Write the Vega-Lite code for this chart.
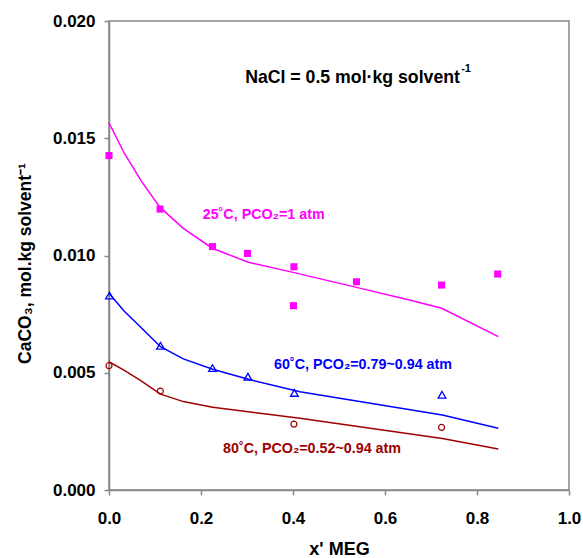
{
  "$schema": "https://vega.github.io/schema/vega-lite/v6.json",
  "width": 460,
  "height": 469,
  "autosize": {"type": "none"},
  "padding": {"left": 109, "top": 21, "right": 14, "bottom": 68},
  "background": "white",
  "config": {
    "font": "Liberation Sans",
    "view": {"stroke": "#888888", "strokeWidth": 1.5},
    "axis": {
      "domainColor": "#888888",
      "domainWidth": 1.5,
      "tickColor": "#888888",
      "tickWidth": 1.5,
      "tickSize": 5,
      "grid": false,
      "labelFont": "Liberation Sans",
      "labelFontSize": 17,
      "labelFontWeight": "bold",
      "labelColor": "black",
      "labelFlush": false,
      "titleFont": "Liberation Sans",
      "titleFontWeight": "bold",
      "titleColor": "black"
    }
  },
  "datasets": {
    "model": [
      {"series": "25", "x": 0, "y": 0.01566},
      {"series": "25", "x": 0.0333, "y": 0.01436},
      {"series": "25", "x": 0.071, "y": 0.01315},
      {"series": "25", "x": 0.111, "y": 0.01205},
      {"series": "25", "x": 0.1616, "y": 0.01116},
      {"series": "25", "x": 0.2246, "y": 0.01031},
      {"series": "25", "x": 0.303, "y": 0.00971},
      {"series": "25", "x": 0.4, "y": 0.00928},
      {"series": "25", "x": 0.538, "y": 0.00864},
      {"series": "25", "x": 0.653, "y": 0.0081},
      {"series": "25", "x": 0.7233, "y": 0.00775},
      {"series": "25", "x": 0.8463, "y": 0.00654},
      {"series": "60", "x": 0, "y": 0.00839},
      {"series": "60", "x": 0.0333, "y": 0.00762},
      {"series": "60", "x": 0.0674, "y": 0.00697},
      {"series": "60", "x": 0.112, "y": 0.00611},
      {"series": "60", "x": 0.1616, "y": 0.00559},
      {"series": "60", "x": 0.2254, "y": 0.00515},
      {"series": "60", "x": 0.303, "y": 0.00472},
      {"series": "60", "x": 0.415, "y": 0.00419},
      {"series": "60", "x": 0.7246, "y": 0.0032},
      {"series": "60", "x": 0.8463, "y": 0.00263},
      {"series": "80", "x": 0, "y": 0.00547},
      {"series": "80", "x": 0.0333, "y": 0.0051},
      {"series": "80", "x": 0.0674, "y": 0.00469},
      {"series": "80", "x": 0.112, "y": 0.00409},
      {"series": "80", "x": 0.1616, "y": 0.00377},
      {"series": "80", "x": 0.2254, "y": 0.00353},
      {"series": "80", "x": 0.415, "y": 0.00306},
      {"series": "80", "x": 0.7246, "y": 0.0022},
      {"series": "80", "x": 0.8463, "y": 0.00175}
    ],
    "exp": [
      {"series": "25", "x": 0, "y": 0.01426},
      {"series": "25", "x": 0.111, "y": 0.01198},
      {"series": "25", "x": 0.225, "y": 0.01038},
      {"series": "25", "x": 0.301, "y": 0.01009},
      {"series": "25", "x": 0.402, "y": 0.00952},
      {"series": "25", "x": 0.401, "y": 0.00786},
      {"series": "25", "x": 0.538, "y": 0.00888},
      {"series": "25", "x": 0.723, "y": 0.00874},
      {"series": "25", "x": 0.845, "y": 0.00921},
      {"series": "60", "x": 0.001, "y": 0.00829},
      {"series": "60", "x": 0.112, "y": 0.00615},
      {"series": "60", "x": 0.225, "y": 0.0052},
      {"series": "60", "x": 0.302, "y": 0.00483},
      {"series": "60", "x": 0.403, "y": 0.00414},
      {"series": "60", "x": 0.724, "y": 0.00406},
      {"series": "80", "x": 0, "y": 0.0053},
      {"series": "80", "x": 0.1116, "y": 0.00422},
      {"series": "80", "x": 0.402, "y": 0.00281},
      {"series": "80", "x": 0.723, "y": 0.00267}
    ],
    "labels": [
      {"series": "25", "x": 0.2037, "y": 0.01154, "text": "25˚C, PCO₂=1 atm"},
      {"series": "60", "x": 0.3587, "y": 0.00515, "text": "60˚C, PCO₂=0.79~0.94 atm"},
      {"series": "80", "x": 0.2478, "y": 0.00157, "text": "80˚C, PCO₂=0.52~0.94 atm"}
    ],
    "note": [
      {"x": 0.296, "y": 0.01734, "text": "NaCl = 0.5 mol·kg solvent"}
    ],
    "noteSup": [
      {"x": 0.7655, "y": 0.01795, "text": "-1"}
    ]
  },
  "encoding": {
    "x": {
      "field": "x", "type": "quantitative",
      "scale": {"domain": [0, 1], "nice": false, "zero": false},
      "axis": {"values": [0, 0.2, 0.4, 0.6, 0.8, 1.0], "format": ".1f", "labelPadding": 15, "title": "x' MEG", "titleFontSize": 18, "titlePadding": 14, "titleFont": "Liberation Sans"}
    },
    "y": {
      "field": "y", "type": "quantitative",
      "scale": {"domain": [0, 0.02], "nice": false},
      "axis": {"values": [0, 0.005, 0.01, 0.015, 0.02], "format": ".3f", "labelPadding": 9, "title": "CaCO₃, mol.kg solvent⁻¹", "titleFontSize": 17.5, "titleX": -75, "titleY": 242, "titleFont": "Liberation Sans"}
    }
  },
  "layer": [
    {
      "data": {"name": "model"},
      "mark": {"type": "line", "strokeWidth": 1.5},
      "encoding": {
        "color": {"field": "series", "type": "nominal", "scale": {"domain": ["25", "60", "80"], "range": ["#ff00ff", "#0000ff", "#a00000"]}, "legend": null}
      }
    },
    {
      "data": {"name": "exp"},
      "transform": [{"filter": "datum.series == '25'"}],
      "mark": {"type": "square", "filled": true, "size": 50, "color": "#ff00ff", "opacity": 1}
    },
    {
      "data": {"name": "exp"},
      "transform": [{"filter": "datum.series == '60'"}],
      "mark": {"type": "point", "shape": "triangle-up", "filled": false, "size": 60, "color": "#0000ff", "strokeWidth": 1.3, "opacity": 1}
    },
    {
      "data": {"name": "exp"},
      "transform": [{"filter": "datum.series == '80'"}],
      "mark": {"type": "point", "shape": "circle", "filled": false, "size": 36, "color": "#a00000", "strokeWidth": 1.2, "opacity": 1}
    },
    {
      "data": {"name": "labels"},
      "mark": {"type": "text", "align": "left", "baseline": "alphabetic", "fontSize": 14.3, "fontWeight": "bold", "font": "Liberation Sans"},
      "encoding": {
        "text": {"field": "text"},
        "color": {"field": "series", "type": "nominal", "legend": null}
      }
    },
    {
      "data": {"name": "note"},
      "mark": {"type": "text", "align": "left", "baseline": "alphabetic", "fontSize": 17.7, "fontWeight": "bold", "color": "black", "font": "Liberation Sans"},
      "encoding": {"text": {"field": "text"}}
    },
    {
      "data": {"name": "noteSup"},
      "mark": {"type": "text", "align": "left", "baseline": "middle", "fontSize": 11, "fontWeight": "bold", "color": "black", "font": "Liberation Sans"},
      "encoding": {"text": {"field": "text"}}
    }
  ]
}
